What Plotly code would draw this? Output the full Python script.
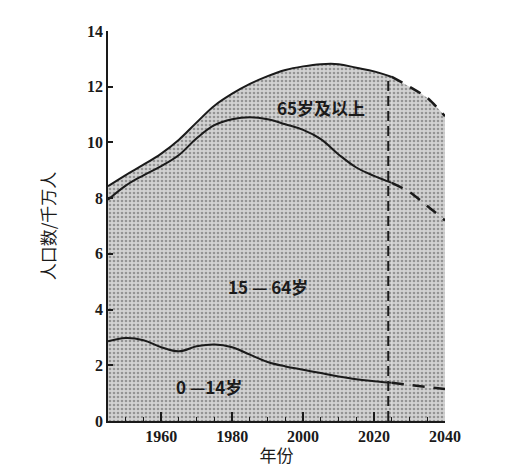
import numpy as np
import plotly.graph_objects as go

# Years (solid part = statistics, dashed part = projection)
years = [1945, 1950, 1955, 1960, 1965, 1970, 1975, 1980, 1985, 1990,
         1995, 2000, 2005, 2010, 2015, 2020, 2025]
proj_years = [2025, 2030, 2035, 2040]

# Population by age group, unit: 10 million people
young = [2.86, 2.98, 2.90, 2.65, 2.50, 2.68, 2.75, 2.65, 2.38, 2.12,
         1.96, 1.84, 1.72, 1.60, 1.50, 1.43, 1.37]
working = [5.08, 5.47, 5.92, 6.50, 7.05, 7.47, 7.87, 8.18, 8.52, 8.71,
           8.69, 8.61, 8.40, 7.97, 7.60, 7.37, 7.18]
elderly = [0.49, 0.38, 0.38, 0.45, 0.55, 0.57, 0.70, 0.92, 1.20, 1.55,
           1.95, 2.28, 2.69, 3.24, 3.58, 3.75, 3.80]

proj_young = [1.37, 1.30, 1.22, 1.15]
proj_working = [7.18, 6.92, 6.50, 6.05]
proj_elderly = [3.80, 3.78, 3.88, 3.74]

divide_year = 2024
group_labels = ["0 —14岁", "15 — 64岁", "65岁及以上"]
label_pos_x = [1973.6, 1990, 2005]
label_pos_y = [1.24, 4.82, 11.24]

serif = "Liberation Serif"
cjk = "Noto Sans CJK SC"
pattern = dict(shape=".", fgcolor="#555555", bgcolor="#d2d2d2", size=4, solidity=0.35)

fig = go.Figure()

for name, vals in [("young", young), ("working", working), ("elderly", elderly)]:
    fig.add_trace(go.Scatter(x=years, y=vals, stackgroup="hist", mode="lines",
                             line=dict(color="#1a1a1a", width=2, shape="spline", smoothing=1.1),
                             fillpattern=pattern, name=name, showlegend=False))

for name, vals in [("young", proj_young), ("working", proj_working), ("elderly", proj_elderly)]:
    fig.add_trace(go.Scatter(x=proj_years, y=vals, stackgroup="proj", mode="lines",
                             line=dict(color="#1a1a1a", width=2.5, dash="12px,9px",
                                       shape="spline", smoothing=0.8),
                             fillpattern=pattern, name=name, showlegend=False))

# dividing line between statistics and projection
total = np.array(young) + np.array(working) + np.array(elderly)
top_at_divide = float(np.interp(divide_year, years, total))
fig.add_trace(go.Scatter(x=[divide_year, divide_year], y=[0, top_at_divide], mode="lines",
                         line=dict(color="#1a1a1a", width=2, dash="10px,5px"),
                         showlegend=False, hoverinfo="skip"))

for txt, lx, ly in zip(group_labels, label_pos_x, label_pos_y):
    fig.add_annotation(x=lx, y=ly, text="<b>" + txt + "</b>", showarrow=False,
                       font=dict(family=cjk, size=17, color="#1a1a1a"))

# page body adds 8px, so the figure is a bit smaller than the window
fig.update_layout(
    width=499, height=459,
    margin=dict(l=100, r=62, t=23, b=46),
    plot_bgcolor="white", paper_bgcolor="white",
    showlegend=False,
    font=dict(family=serif, size=16, color="#1a1a1a"),
)

fig.update_xaxes(
    range=[1945, 2040], tick0=1960, dtick=20, automargin=False,
    ticks="inside", ticklen=9, tickwidth=1.5, tickcolor="#1a1a1a",
    minor=dict(ticks="inside", ticklen=4, dtick=5, tick0=1960, tickcolor="#1a1a1a", tickwidth=1.2),
    showline=True, linecolor="#1a1a1a", linewidth=1.5,
    showgrid=False, zeroline=False,
    tickfont=dict(family=serif, size=16, color="#1a1a1a", weight="bold"),
    title=dict(text="年份", font=dict(family=cjk, size=17, color="#1a1a1a"), standoff=2),
)

fig.update_yaxes(
    range=[0, 14], dtick=2, automargin=False,
    ticks="inside", ticklen=5, tickwidth=1.5, tickcolor="#1a1a1a",
    showline=True, linecolor="#1a1a1a", linewidth=1.5,
    showgrid=False, zeroline=False,
    tickfont=dict(family=serif, size=16, color="#1a1a1a", weight="bold"),
    title=dict(text="人口数/千万人", font=dict(family=cjk, size=17, color="#1a1a1a"), standoff=27),
)

fig.write_html("out.html")
